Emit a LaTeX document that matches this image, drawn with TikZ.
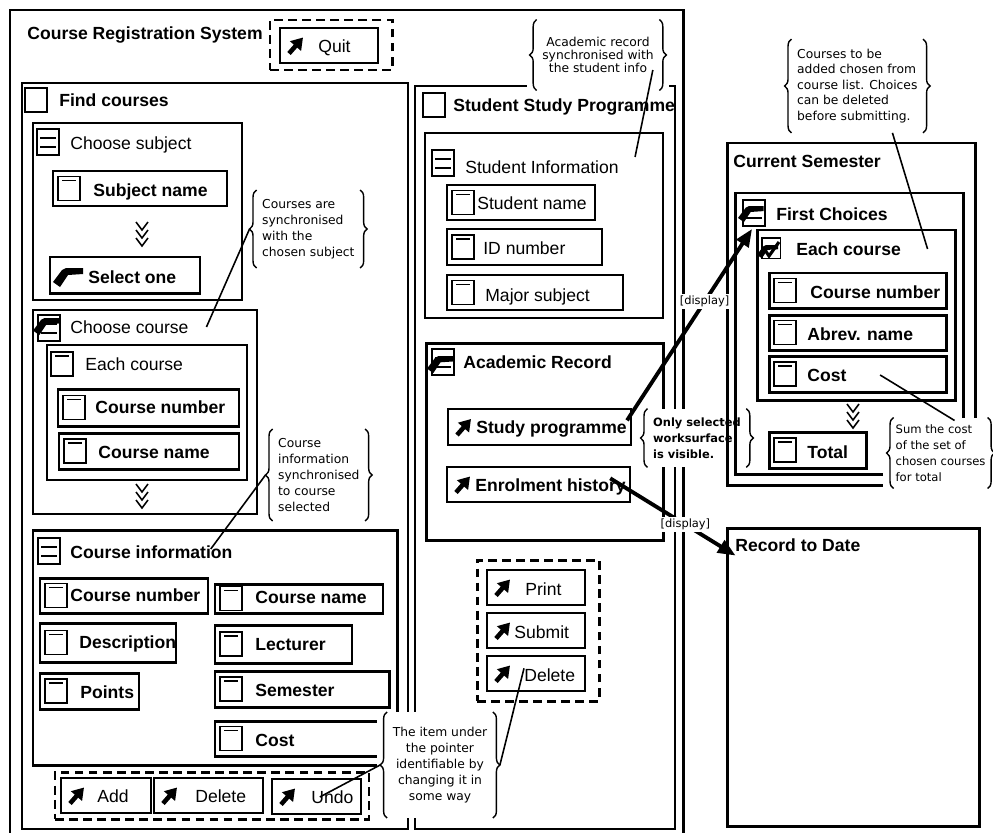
\documentclass[tikz,border=0pt]{standalone}
\usepackage{fontspec}
\setmainfont{Liberation Sans}
\newfontfamily\notefont{DejaVu Sans}
\usetikzlibrary{fit,arrows.meta,decorations.pathreplacing}

\tikzset{
  % small glyphs
  chk/.pic={\draw[line width=0.6pt] (0,0) rectangle (22,24);},
  win/.pic={\draw[line width=0.6pt] (0,0) rectangle (22,26) (3,9) -- (19,9) (3,18) -- (19,18);},
  fic/.pic={\draw[line width=0.6pt] (0,0) rectangle (22,24) (4,4) -- (18,4);},
  grab/.pic={\fill (0,14) -- (9,2) -- (13,0) -- (30,0) -- (30,6) -- (15,7) -- (7,19) -- cycle;},
  chev/.pic={\foreach \k in {0,8,16} \draw[line width=0.9pt] (-6,\k) -- (0,\k+8) -- (6,\k);},
  % boxes
  frm/.style={draw, line width=1.2pt, inner sep=0pt},
  thk/.style={draw, line width=1.7pt, inner sep=0pt},
  thn/.style={draw, line width=0.8pt, inner sep=0pt},
  grp/.style={draw, line width=1.7pt, dash pattern=on 5pt off 3pt, inner sep=0pt},
  fld/.style={thk, path picture={\pic at ([shift={(5,-12)}]path picture bounding box.west) {fic};}},
  btn/.style={frm, path picture={\draw[line width=2.6pt, -{Triangle[length=6.5pt,width=8pt]}]
      ([shift={(9,8)}]path picture bounding box.west) -- ([shift={(23,-8)}]path picture bounding box.west);}},
  % texts
  plain/.style={inner sep=0pt, anchor=west, text height=7.2pt, text depth=0pt},
  lbl/.style={plain, font=\bfseries},
  brc/.style={decorate, decoration={brace, amplitude=4pt}, line width=0.8pt},
  note/.style={fill=white, inner xsep=9pt, inner ysep=2pt, font=\notefont\fontsize{7}{9}\selectfont,
    append after command={
      ([xshift=6pt]\tikzlastnode.south west) edge[brc] ([xshift=6pt]\tikzlastnode.north west)
      ([xshift=-6pt]\tikzlastnode.north east) edge[brc] ([xshift=-6pt]\tikzlastnode.south east)}},
  con/.style={line width=0.9pt},
  disp/.style={line width=2.2pt, -{Triangle[length=10pt,width=8pt]}},
  dlab/.style={fill=white, inner sep=1pt, font=\notefont\fontsize{6.5}{7}\selectfont}
}

\begin{document}
\begin{tikzpicture}[x=0.02cm, y=-0.02cm]
\useasboundingbox (0,0) rectangle (993,832);

% main window
\node[thk, fit={(10,10) (683,845)}] (crs) {};
\node[lbl] (crs-l) at (27,33) {Course Registration System};
\node[grp, fit={(270,20) (392,70)}] (quitgrp) {};
\node[btn, fit={(280,28) (378,63)}] (quit) {};
\node[plain] (quit-l) at (318,46) {Quit};

% find courses
\node[frm, fit={(22,83) (408,829)}] (findc) {};
\pic at (25,88) {chk};
\node[lbl] (findc-l) at (59,100) {Find courses};
\node[frm, fit={(33,123) (242,300)}] (chsub) {};
\pic at (37,129) {win};
\node[plain] (chsub-l) at (70,143) {Choose subject};
\node[fld, fit={(53,171) (227,206)}] (subj) {};
\node[lbl] (subj-l) at (93,190) {Subject name};
\pic at (142,222) {chev};
\node[thk, fit={(50,257) (200,293)}] (selone) {};
\pic at (53,268) {grab};
\node[lbl] (selone-l) at (88,277) {Select one};

\node[frm, fit={(33,310) (257,514)}] (chcrs) {};
\pic at (38,315) {win};
\pic[scale=0.9] at (33,318) {grab};
\node[plain] (chcrs-l) at (70,327) {Choose course};
\node[thn, fit={(47,345) (247,480)}] (eachl) {};
\pic at (51,352) {fic};
\node[plain] (eachl-l) at (85,364) {Each course};
\node[fld, fit={(58,389) (239,426)}] (ccnum) {};
\node[lbl] (ccnum-l) at (95,407) {Course number};
\node[fld, fit={(59,433) (239,469)}] (ccname) {};
\node[lbl] (ccname-l) at (98,452) {Course name};
\pic at (142,484) {chev};

% course information
\node[thk, fit={(33,530) (397,765)}] (cinfo) {};
\pic at (38,538) {win};
\node[lbl] (cinfo-l) at (70,552) {Course information};
\node[fld, fit={(40,578) (208,613)}] (cinum) {};
\node[lbl] (cinum-l) at (70,595) {Course number};
\node[fld, fit={(215,584) (383,613)}] (ciname) {};
\node[lbl] (ciname-l) at (255,597) {Course name};
\node[fld, fit={(40,623) (176,662)}] (cidesc) {};
\node[lbl] (cidesc-l) at (79,642) {Description};
\node[fld, fit={(215,625) (352,663)}] (cilect) {};
\node[lbl] (cilect-l) at (255,644) {Lecturer};
\node[fld, fit={(40,673) (139,709)}] (cipts) {};
\node[lbl] (cipts-l) at (80,692) {Points};
\node[fld, fit={(215,671) (389,707)}] (cisem) {};
\node[lbl] (cisem-l) at (255,690) {Semester};
\node[fld, fit={(215,721) (382,756)}] (cicost) {};
\node[lbl] (cicost-l) at (255,740) {Cost};

\node[grp, fit={(55,772) (369,819)}] (editgrp) {};
\node[btn, fit={(61,778) (151,813)}] (add) {};
\node[plain] (add-l) at (97,796) {Add};
\node[btn, fit={(154,778) (263,813)}] (del) {};
\node[plain] (del-l) at (195,796) {Delete};
\node[btn, fit={(272,779) (361,814)}] (undo) {};
\node[plain] (undo-l) at (311,797) {Undo};

% student study programme
\node[frm, fit={(415,86) (675,829)}] (ssp) {};
\pic at (423,93) {chk};
\node[lbl] (ssp-l) at (453,105) {Student Study Programme};
\node[thn, fit={(425,133) (663,318)}] (stinfo) {};
\pic at (432,150) {win};
\node[plain] (stinfo-l) at (465,167) {Student Information};
\node[fld, line width=1.2pt, fit={(447,185) (595,220)}] (stname) {};
\node[plain] (stname-l) at (477,203) {Student name};
\node[fld, line width=1.2pt, fit={(447,229) (602,265)}] (stid) {};
\node[plain] (stid-l) at (483,248) {ID number};
\node[fld, line width=1.2pt, fit={(447,275) (623,310)}] (stmaj) {};
\node[plain] (stmaj-l) at (485,295) {Major subject};

\node[thk, fit={(426,343) (663,540)}] (acrec) {};
\pic at (432,349) {win};
\pic[scale=0.9] at (427,356) {grab};
\node[lbl] (acrec-l) at (463,362) {Academic Record};
\node[btn, fit={(448,409) (631,445)}] (stprog) {};
\node[lbl] (stprog-l) at (476,427) {Study programme};
\node[btn, fit={(447,467) (630,502)}] (enrol) {};
\node[lbl] (enrol-l) at (475,485) {Enrolment history};

\node[grp, fit={(477,560) (599,701)}] (actgrp) {};
\node[btn, fit={(487,570) (585,605)}] (print) {};
\node[plain] (print-l) at (525,589) {Print};
\node[btn, fit={(487,613) (585,648)}] (submit) {};
\node[plain] (submit-l) at (514,632) {Submit};
\node[btn, fit={(487,656) (585,691)}] (psdel) {};
\node[plain] (psdel-l) at (524,675) {Delete};

% notes on the left side
\node[note, align=center, font=\notefont\fontsize{7}{7.2}\selectfont, minimum height=40pt] (n1) at (598,55)
  {Academic record\\synchronised with\\the student info};
\node[note, align=left, anchor=west, minimum height=44pt] (n2) at (246,229)
  {Courses are\\synchronised\\with the\\chosen subject};
\node[note, align=left, anchor=west, minimum height=52pt] (n3) at (262,475)
  {Course\\information\\synchronised\\to course\\selected};
\node[note, align=center, minimum height=60pt] (n4) at (440,765)
  {The item under\\the pointer\\identifiable by\\changing it in\\some way};
\node[note, align=left, anchor=west, minimum height=33pt, font=\notefont\bfseries\fontsize{6.5}{9}\selectfont] (n5) at (637,438)
  {Only selected\\worksurface\\is visible.};

% current semester
\node[thk, fit={(727,143) (975,485)}] (cursem) {};
\node[lbl] (cursem-l) at (733,161) {Current Semester};
\node[thk, fit={(735,193) (963,474)}] (firstch) {};
\pic at (743,200) {win};
\pic[scale=0.85] at (738,206) {grab};
\node[lbl] (firstch-l) at (776,214) {First Choices};
\node[thk, fit={(757,230) (955,400)}] (eachr) {};
\pic[scale=0.85] at (762,238) {chk};
\draw[line width=1.8pt] (765,250) -- (769,256) -- (779,242);
\pic[scale=0.7] at (757,245) {grab};
\node[lbl] (eachr-l) at (796,249) {Each course};
\node[fld, fit={(769,273) (946,308)}] (fcnum) {};
\node[lbl] (fcnum-l) at (810,292) {Course number};
\node[fld, fit={(769,315) (946,350)}] (fcabr) {};
\node[lbl] (fcabr-l) at (807,334) {Abrev. name};
\node[fld, fit={(769,356) (946,392)}] (fccost) {};
\node[lbl] (cost2-l) at (807,375) {Cost};
\pic at (853,404) {chev};
\node[fld, fit={(769,432) (866,468)}] (total) {};
\node[lbl] (total-l) at (807,452) {Total};

% record to date
\node[thk, fit={(727,528) (979,826)}] (rtd) {};
\node[lbl] (rtd-l) at (735,545) {Record to Date};

% notes on the right side
\node[note, align=left, anchor=west, minimum height=53pt, font=\notefont\fontsize{7}{8.8}\selectfont] (n6) at (781,86)
  {Courses to be\\added chosen from\\course list. Choices\\can be deleted\\before submitting.};
\node[note, align=left, anchor=west, inner xsep=7pt, minimum height=40pt, font=\notefont\fontsize{6.6}{9}\selectfont] (n7) at (883,453)
  {Sum the cost\\of the set of\\chosen courses\\for total};

% note pointers
\draw[con] ([shift={(-17,15)}]n1.east) -- ([shift={(16,-10)}]stinfo-l.east);
\draw[con] ([xshift=2pt]n2.west) -- ([xshift=10pt]chcrs-l.east);
\draw[con] ([xshift=2pt]n3.west) -- ([shift={(-22,-3)}]cinfo-l.east);
\draw[con] ([xshift=2pt]n4.west) -- ([xshift=5pt]undo-l.west);
\draw[con] ([xshift=-2pt]n4.east) -- (psdel-l.north west);
\draw[con] ([xshift=20pt]n6.south) -- ([xshift=15pt]eachr-l.east);
\draw[con] ([xshift=19pt]cost2-l.east) -- ([shift={(14,3)}]n7.north);

% display links
\coordinate (fcin) at (752,229);
\draw[disp] (stprog-l.north east) -- node[dlab, pos=0.62] (d1) {[display]} (fcin);
\draw[disp] ([xshift=-9pt]enrol-l.north east) -- node[dlab, pos=0.6] (d2) {[display]} ([shift={(10,29)}]rtd.north west);
\end{tikzpicture}
\end{document}
